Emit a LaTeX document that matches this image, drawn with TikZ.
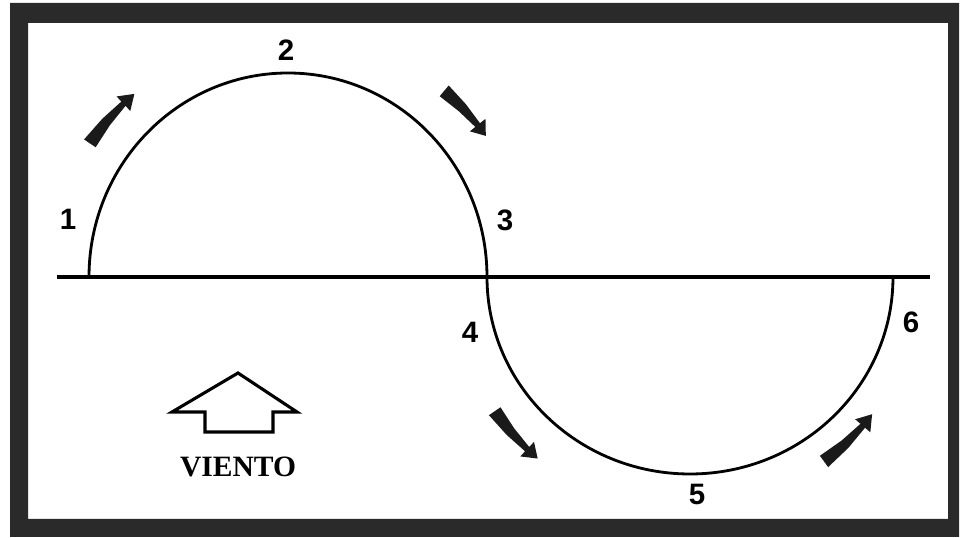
\documentclass[tikz,border=0pt]{standalone}
\usepackage{fontspec}
\usepackage{tikz}
\usetikzlibrary{positioning}

\newfontfamily\digitfont{Liberation Sans}
\newfontfamily\windfont{Liberation Serif}

\definecolor{framegray}{HTML}{2A2A2A}
\definecolor{arrowink}{HTML}{1A1A1A}

% tapered curved arrow: centre, radius, start angle, end angle
\newcommand{\windarrow}[4]{%
  \pgfmathsetmacro\waMid{#3+0.40*(#4-#3)}
  \pgfmathsetmacro\waHead{#3+0.78*(#4-#3)}
  \pgfmathsetmacro\waOa{#2+7}\pgfmathsetmacro\waOb{#2+5}
  \pgfmathsetmacro\waOc{#2+3}\pgfmathsetmacro\waOd{#2+10}
  \pgfmathsetmacro\waIa{#2-7}\pgfmathsetmacro\waIb{#2-5}
  \pgfmathsetmacro\waIc{#2-3}\pgfmathsetmacro\waId{#2-10}
  \fill[arrowink,shift={#1}]
    (#3:\waOa) -- (\waMid:\waOb) -- (\waHead:\waOc) -- (\waHead:\waOd)
    -- (#4:#2) -- (\waHead:\waId) -- (\waHead:\waIc) -- (\waMid:\waIb)
    -- (#3:\waIa) -- cycle;
}

\begin{document}
\begin{tikzpicture}[x=0.025cm,y=0.025cm,line join=miter,
  numlabel/.style={font=\digitfont\bfseries\fontsize{21}{24}\selectfont,inner sep=0pt},
  curve/.style={line width=2pt}]

  \useasboundingbox (0,0) rectangle (960,538);

  % frame
  \fill[framegray,even odd rule] (10,1) rectangle (959,535)
                                 (28,19) rectangle (948,515);

  % axis and the two half circles
  \draw[line width=2.3pt] (57,261) -- (930,261);
  \draw[curve] (89,261) arc[start angle=180,end angle=0,x radius=199,y radius=204];
  \draw[curve] (487,261) arc[start angle=180,end angle=360,x radius=203,y radius=197];

  % points
  \node[numlabel] (p1) at (68,319) {1};
  \node[numlabel] (p2) at (286,488) {2};
  \node[numlabel] (p3) at (505,318) {3};
  \node[numlabel] (p4) at (470,206) {4};
  \node[numlabel] (p5) at (697,44) {5};
  \node[numlabel] (p6) at (911,216) {6};

  % direction arrows
  \windarrow{(288,261)}{239}{146}{130}
  \windarrow{(288,261)}{243}{50}{35.5}
  \windarrow{(690,261)}{237}{214.5}{230}
  \windarrow{(690,261)}{228}{306}{323}

  % wind
  \draw[line width=2.2pt,fill=white] (238,165) -- (297,126) -- (273,126) -- (273,106)
    -- (205,106) -- (205,126) -- (172,126) -- cycle;
  \node[font=\windfont\bfseries\fontsize{21}{24}\selectfont,inner sep=0pt] (wind) at (238,71) {VIENTO};

\end{tikzpicture}
\end{document}
